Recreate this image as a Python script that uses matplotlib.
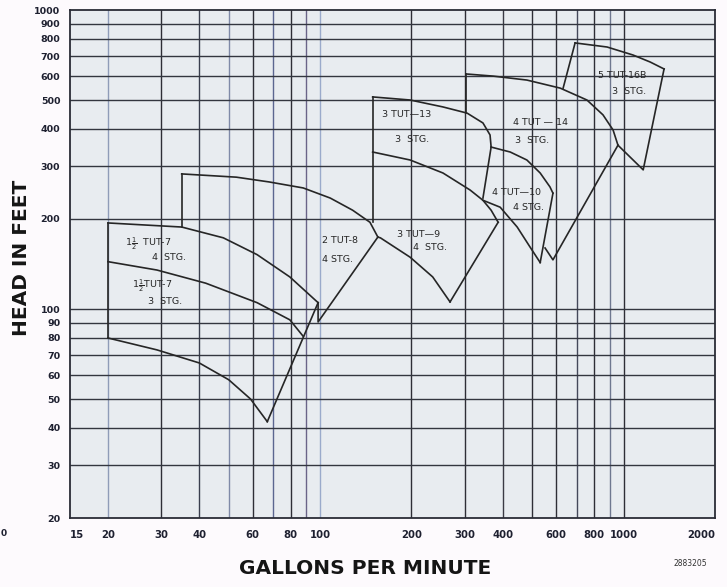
import matplotlib
matplotlib.use("Agg")
import matplotlib.pyplot as plt

# --- data (GPM, head in feet) ---
x_tick_vals = [15, 20, 30, 40, 60, 80, 100, 200, 300, 400, 600, 800, 1000, 2000]
y_tick_vals = [20, 30, 40, 50, 60, 70, 80, 90, 100, 200, 300, 400, 500, 600, 700, 800, 900, 1000]
x_grid = [20, 30, 40, 50, 60, 70, 80, 90, 100, 200, 300, 400, 500, 600, 700, 800, 900, 1000]
y_grid = [30, 40, 50, 60, 70, 80, 90, 100, 200, 300, 400, 500, 600, 700, 800, 900]

# 1 1/2 TUT-7
t7_top_gpm = [20, 35, 48, 62, 79.5, 98.5]
t7_top_head = [194, 188, 173, 152, 128, 105]
t7_mid_gpm = [20, 29, 42, 62, 79.5, 88]
t7_mid_head = [144, 135, 122, 105, 92, 81]
t7_bot_gpm = [20, 29, 40, 50, 59, 67]
t7_bot_head = [80, 73, 66, 58, 50, 42]
t7_left_gpm = [20, 20]
t7_left_head = [194, 80]
t7_right_gpm = [67, 98.5]
t7_right_head = [42, 105]

# 2 TUT-8
t8_top_gpm = [35, 53, 68, 88, 108, 128, 146, 155]
t8_top_head = [283, 276, 266, 254, 235, 214, 195, 174]
t8_left_gpm = [35, 35]
t8_left_head = [283, 188]
t8_right_gpm = [98.5, 98.5, 155]
t8_right_head = [105, 90.5, 174]

# 3 TUT-13 / 3 TUT-9
t13_top_gpm = [149, 198, 254, 305, 344, 363, 366]
t13_top_head = [512, 500, 474, 452, 419, 382, 348]
t13_left_gpm = [149, 149]
t13_left_head = [512, 195]
t13_right_gpm = [366, 344]
t13_right_head = [348, 235]
mid_gpm = [149, 198, 254, 312, 344, 392, 446, 492, 531]
mid_head = [335, 315, 285, 250, 231, 219, 188, 161, 143]
t9_topend_gpm = [344, 366, 386]
t9_topend_head = [231, 214, 195]
t9_bot_gpm = [155, 158, 198, 235, 268]
t9_bot_head = [174, 173, 149, 128, 105.6]
t9_right_gpm = [268, 386]
t9_right_head = [105.6, 195]

# 4 TUT-14 / 4 TUT-10
t14_top_gpm = [303, 372, 480, 618, 757, 855, 923, 958]
t14_top_head = [611, 601, 583, 548, 500, 446, 397, 353]
t14_left_gpm = [303, 303]
t14_left_head = [611, 452]
t14_right_gpm = [958, 585, 551]
t14_right_head = [353, 146, 160]
t10_top_gpm = [366, 423, 480, 531, 572, 585]
t10_top_head = [348, 335, 315, 285, 256, 244]
t10_right_gpm = [585, 531]
t10_right_head = [244, 143]

# 5 TUT-16B
t16_top_gpm = [692, 882, 1074, 1223, 1359]
t16_top_head = [776, 752, 707, 670, 635]
t16_left_gpm = [632, 692]
t16_left_head = [548, 776]
t16_right_gpm = [1359, 1160, 958]
t16_right_head = [635, 292, 353]

# pump labels: text, gpm of left edge, head of text centre
labels = [
    (r"$1\frac{1}{2}$  TUT-7", 22.8, 166), ("4  STG.", 28.0, 149),
    (r"$1\frac{1}{2}$TUT-7", 24.0, 120), ("3  STG.", 27.1, 105.6),
    ("2 TUT-8", 101.6, 170), ("4 STG.", 101.6, 146),
    ("3 TUT\u201413", 160, 446), ("3  STG.", 176.6, 370),
    ("3 TUT\u20149", 179, 177), ("4  STG.", 202, 160),
    ("4 TUT \u2014 14", 432, 419), ("3  STG.", 439, 367),
    ("4 TUT\u201410", 368.6, 246), ("4 STG.", 432, 219),
    ("5 TUT-16B", 824, 606), ("3  STG.", 916, 532),
]

fig = plt.figure(figsize=(7.27, 5.87), dpi=100, facecolor="#fdfafd")
ax = fig.add_axes([70 / 727, 69 / 587, 645 / 727, 508 / 587])
ax.set_facecolor("#e8ecf0")
ax.set_xscale("log")
ax.set_yscale("log")
ax.set_xlim(15, 2000)
ax.set_ylim(20, 1000)

xgrid_colors = ["#8f9cb8", "#2e2e36", "#3a3f4f", "#7f8aa8", "#2e2e36", "#5b6690",
                "#2e2e36", "#6a6488", "#9aaacb", "#2e2e36", "#2e2e36", "#3a3a44",
                "#2e2e36", "#2e2e36", "#44485a", "#2e2e36", "#6f7890", "#2e2e36"]
for g, c in zip(x_grid, xgrid_colors):
    ax.axvline(g, color=c, lw=1.0, zorder=1)
for g in y_grid:
    ax.axhline(g, color="#33363f", lw=1.0, zorder=1)

ax.set_xticks(x_tick_vals)
ax.set_xticklabels([str(v) for v in x_tick_vals])
ax.set_yticks(y_tick_vals)
ax.set_yticklabels([str(v) for v in y_tick_vals])
ax.minorticks_off()
ax.tick_params(axis="both", length=0, colors="#1e2030")
ax.tick_params(axis="x", pad=9, labelsize=7.3)
ax.tick_params(axis="y", pad=7, labelsize=6.8)
for t in ax.get_xticklabels() + ax.get_yticklabels():
    t.set_fontweight("bold")
xl = ax.get_xticklabels()
xl[0].set_horizontalalignment("left")
xl[-1].set_horizontalalignment("right")

for s in ax.spines.values():
    s.set_color("#2a2c36")
    s.set_linewidth(1.3)

line_kw = dict(color="#262626", lw=1.2, zorder=3)
segments = [
    (t7_top_gpm, t7_top_head), (t7_mid_gpm, t7_mid_head), (t7_bot_gpm, t7_bot_head),
    (t7_left_gpm, t7_left_head), (t7_right_gpm, t7_right_head),
    (t8_top_gpm, t8_top_head), (t8_left_gpm, t8_left_head), (t8_right_gpm, t8_right_head),
    (t13_top_gpm, t13_top_head), (t13_left_gpm, t13_left_head), (t13_right_gpm, t13_right_head),
    (mid_gpm, mid_head), (t9_topend_gpm, t9_topend_head), (t9_bot_gpm, t9_bot_head),
    (t9_right_gpm, t9_right_head),
    (t14_top_gpm, t14_top_head), (t14_left_gpm, t14_left_head), (t14_right_gpm, t14_right_head),
    (t10_top_gpm, t10_top_head), (t10_right_gpm, t10_right_head),
    (t16_top_gpm, t16_top_head), (t16_left_gpm, t16_left_head), (t16_right_gpm, t16_right_head),
]
for gx, hy in segments:
    ax.plot(gx, hy, **line_kw)

for txt, gx, hy in labels:
    ax.text(gx, hy, txt, fontsize=6.8, color="#262626", ha="left", va="center", zorder=4)

fig.text(22 / 727, 1 - 258 / 587, "HEAD IN FEET", rotation=90, fontsize=14.5,
         fontweight="bold", ha="center", va="center", color="#151515")
fig.text(365 / 727, 1 - 568 / 587, "GALLONS PER MINUTE", fontsize=14.5,
         fontweight="bold", ha="center", va="center", color="#151515")
fig.text(690 / 727, 1 - 563 / 587, "2883205", fontsize=5.5, ha="center",
         va="center", color="#333333")
fig.text(1 / 727, 1 - 533 / 587, "0", fontsize=6.5, fontweight="bold",
         ha="left", va="center", color="#1e2030")

fig.savefig("out.png", dpi=100, facecolor=fig.get_facecolor())
